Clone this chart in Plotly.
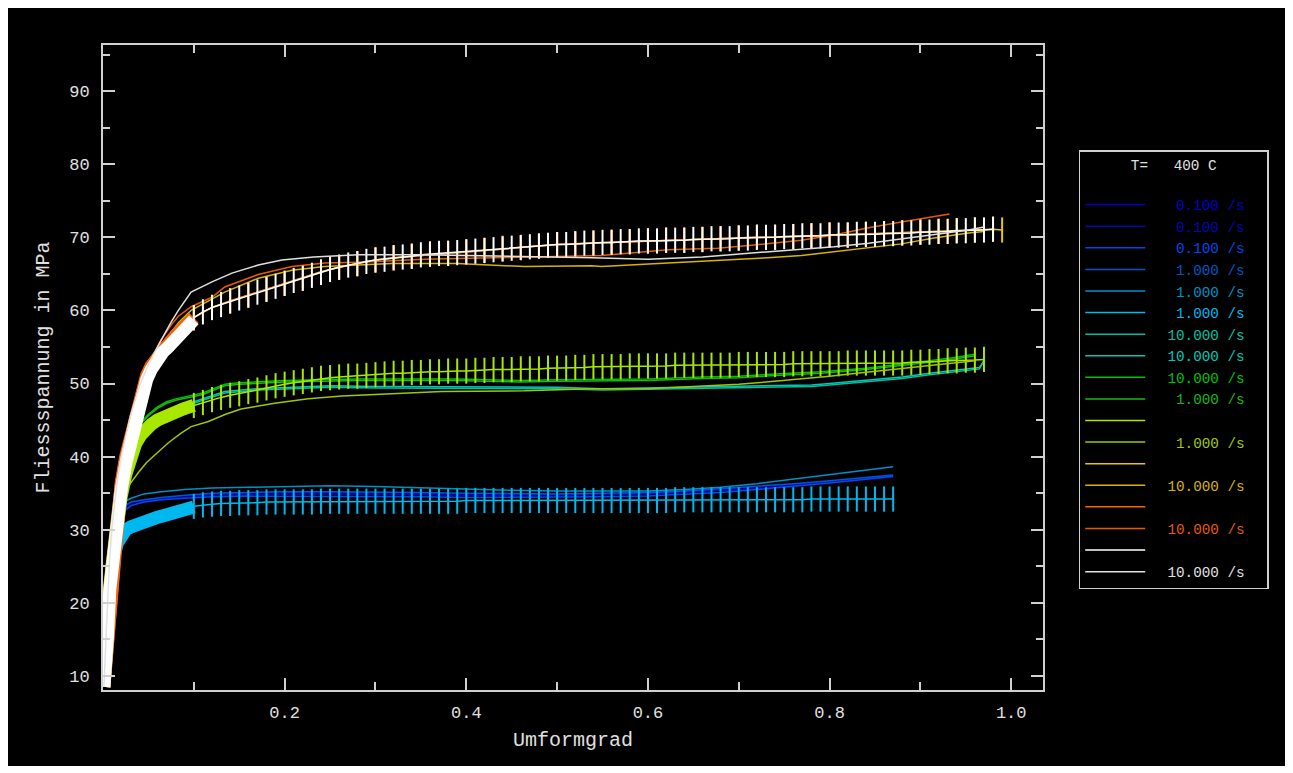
import plotly.graph_objects as go

FONT = "Liberation Mono, DejaVu Sans Mono, monospace"
TXT = "#e0e0e0"
AX = "#d0d0d0"

# ---------------- legend labels / colours (legend order) ----------------
labels = ["0.100 /s", "0.100 /s", "0.100 /s", "1.000 /s", "1.000 /s", "1.000 /s",
          "10.000 /s", "10.000 /s", "10.000 /s", "1.000 /s", "", "1.000 /s",
          "", "10.000 /s", "", "10.000 /s", "", "10.000 /s"]
colors = ["#0000c8", "#0008b0", "#0048f0", "#0058c8", "#0090c8", "#00b8f0",
          "#00c0a0", "#00c8b8", "#00c000", "#18b818", "#a8e800", "#a0c800",
          "#e8c800", "#d8b400", "#ff6000", "#e85a00", "#ffffff", "#e0e0e0"]

# ---------------- measured curves (crosses) ----------------
# dense early part (strain grid shared by all measured curves)
dense_strain = [0.001, 0.003, 0.005, 0.0075, 0.010, 0.013, 0.016, 0.020, 0.025, 0.031, 0.036,
                0.042, 0.048, 0.053, 0.060, 0.066, 0.072, 0.080, 0.088, 0.095, 0.100]
dense_cyan = [8.5, 11.5, 16.5, 21.5, 24.5, 26.8, 28.2, 29.2, 30.0, 30.4, 30.7,
              31.0, 31.2, 31.4, 31.7, 31.9, 32.1, 32.4, 32.6, 32.9, 33.1]
dense_ygreen = [8.5, 11.0, 15.5, 21.0, 25.0, 28.5, 31.5, 34.5, 37.5, 40.3, 41.8,
                43.0, 43.9, 44.4, 45.0, 45.4, 45.7, 46.1, 46.5, 46.8, 47.0]
dense_yellow = [8.5, 11.2, 15.9, 22.3, 26.1, 29.2, 32.2, 36.0, 39.6, 42.9, 46.1,
                49.1, 50.9, 52.2, 53.7, 54.6, 55.3, 56.5, 57.5, 58.4, 58.9]
dense_orange = [8.5, 11.4, 16.2, 22.7, 26.5, 29.6, 32.6, 36.4, 40.0, 43.3, 46.5,
                49.4, 51.1, 52.4, 53.8, 54.7, 55.4, 56.6, 57.6, 58.5, 59.0]
dense_white = [8.5, 11.0, 15.5, 21.8, 25.5, 28.6, 31.5, 35.4, 39.0, 42.3, 45.6,
               48.7, 50.5, 51.9, 53.4, 54.3, 55.0, 56.2, 57.3, 58.2, 58.7]

# sparse part, one cross every 0.01 of strain
cyan_cross = [33.2, 33.4, 33.5, 33.6, 33.6, 33.7, 33.7, 33.7, 33.8, 33.8,
              33.8, 33.8, 33.8, 33.8, 33.9, 33.9, 33.9, 33.9, 33.9, 33.9,
              33.9, 33.9, 33.9, 33.9, 33.9, 33.9, 33.9, 33.9, 33.9, 33.9,
              34.0, 34.0, 34.0, 34.0, 34.0, 34.0, 34.0, 34.0, 34.0, 34.0,
              34.0, 34.0, 34.0, 34.0, 34.0, 34.0, 34.0, 34.0, 34.0, 34.0,
              34.0, 34.0, 34.0, 34.1, 34.1, 34.1, 34.1, 34.1, 34.1, 34.1,
              34.1, 34.1, 34.1, 34.1, 34.1, 34.1, 34.1, 34.1, 34.2, 34.2,
              34.2, 34.2, 34.2, 34.2, 34.2, 34.2, 34.2, 34.2]
ygreen_cross = [47.0, 47.4, 47.8, 48.1, 48.4, 48.6, 48.9, 49.1, 49.4, 49.7,
                49.9, 50.1, 50.3, 50.5, 50.7, 50.8, 50.9, 51.0, 51.0, 51.1,
                51.2, 51.3, 51.4, 51.4, 51.5, 51.5, 51.6, 51.6, 51.7, 51.7,
                51.7, 51.8, 51.8, 51.9, 51.9, 51.9, 52.0, 52.0, 52.0, 52.1,
                52.1, 52.1, 52.2, 52.2, 52.3, 52.3, 52.3, 52.3, 52.4, 52.4,
                52.4, 52.4, 52.4, 52.5, 52.5, 52.5, 52.5, 52.5, 52.5, 52.5,
                52.6, 52.6, 52.6, 52.6, 52.6, 52.6, 52.7, 52.7, 52.7, 52.7,
                52.7, 52.7, 52.8, 52.8, 52.8, 52.8, 52.8, 52.8, 52.8, 52.9,
                52.9, 53.0, 53.0, 53.1, 53.1, 53.2, 53.2, 53.3]
white_cross = [59.0, 59.8, 60.4, 60.8, 61.3, 61.7, 62.1, 62.5, 62.9, 63.3,
               63.7, 64.1, 64.4, 64.8, 65.2, 65.6, 65.9, 66.2, 66.4, 66.7,
               66.9, 67.0, 67.2, 67.3, 67.4, 67.6, 67.7, 67.8, 67.8, 67.9,
               68.0, 68.1, 68.2, 68.3, 68.4, 68.5, 68.6, 68.7, 68.8, 68.9,
               69.0, 69.0, 69.1, 69.2, 69.2, 69.3, 69.3, 69.4, 69.4, 69.5,
               69.5, 69.5, 69.6, 69.6, 69.6, 69.7, 69.7, 69.8, 69.8, 69.8,
               69.9, 69.9, 70.0, 70.0, 70.0, 70.1, 70.1, 70.2, 70.2, 70.2,
               70.3, 70.3, 70.3, 70.4, 70.4, 70.4, 70.5, 70.5, 70.6, 70.6,
               70.7, 70.7, 70.8, 70.8, 70.9, 70.9, 71.0, 71.0, 71.1]
# crosses every 0.02 of strain (mostly hidden behind the white ones)
yellow_cross = [59.0, 60.4, 61.3, 62.1, 62.9, 63.7, 64.4, 65.3, 65.9, 66.4,
                66.9, 67.2, 67.4, 67.7, 67.8, 68.0, 68.2, 68.5, 68.6, 68.8,
                69.0, 69.1, 69.2, 69.3, 69.4, 69.5, 69.6, 69.6, 69.7, 69.8,
                69.9, 70.0, 70.0, 70.1, 70.2, 70.3, 70.3, 70.4, 70.5, 70.6,
                70.7, 70.8, 70.9, 71.0, 71.1, 71.0]
orange_cross = [59.0, 60.4, 61.3, 62.1, 62.9, 63.7, 64.4, 65.2, 65.9, 66.4,
                66.9, 67.2, 67.4, 67.7, 67.8, 68.0, 68.2, 68.4, 68.6, 68.8,
                69.0, 69.1, 69.2, 69.3, 69.4, 69.5, 69.6, 69.6, 69.7, 69.8,
                69.9, 70.0, 70.0, 70.1, 70.2, 70.3, 70.3, 70.4, 70.5, 70.6,
                70.7, 70.8, 70.8]

def grid(start, step, n):
    return [round(start + step * i, 3) for i in range(n)]

cyan_strain = grid(0.10, 0.01, len(cyan_cross))
ygreen_strain = grid(0.10, 0.01, len(ygreen_cross))
white_strain = grid(0.10, 0.01, len(white_cross))
yellow_strain = grid(0.10, 0.02, len(yellow_cross) - 1) + [0.99]
orange_strain = grid(0.10, 0.02, len(orange_cross) - 1) + [0.93]

# ---------------- fitted / calculated curves (lines) ----------------
low_strain = [0.001, 0.004, 0.007, 0.010, 0.015, 0.020, 0.031, 0.045, 0.064, 0.090, 0.12, 0.16, 0.20, 0.25,
              0.30, 0.35, 0.40, 0.45, 0.50, 0.55, 0.60, 0.64, 0.68, 0.72, 0.76, 0.80, 0.84, 0.87]
line1 = [8.5, 17.0, 24.5, 28.8, 31.6, 32.8, 33.7, 34.0, 34.3, 34.6, 34.9, 35.0, 35.1, 35.1,
         35.1, 35.0, 34.9, 34.8, 34.8, 34.9, 35.0, 35.2, 35.5, 35.8, 36.2, 36.6, 37.1, 37.4]
line2 = [8.5, 16.5, 24.0, 28.3, 31.2, 32.5, 33.4, 33.8, 34.1, 34.4, 34.7, 34.8, 34.9, 34.9,
         34.9, 34.8, 34.7, 34.7, 34.7, 34.8, 34.9, 35.1, 35.3, 35.6, 36.0, 36.4, 36.9, 37.2]
line3 = [8.5, 16.0, 23.5, 27.8, 30.8, 32.2, 33.3, 33.8, 34.1, 34.3, 34.5, 34.6, 34.6, 34.6,
         34.5, 34.5, 34.4, 34.4, 34.4, 34.5, 34.6, 34.8, 35.1, 35.5, 35.9, 36.4, 36.9, 37.3]
line4 = [8.5, 17.2, 24.7, 29.0, 31.8, 33.0, 33.8, 34.1, 34.4, 34.7, 35.0, 35.1, 35.2, 35.2,
         35.2, 35.1, 35.0, 34.9, 34.9, 35.0, 35.1, 35.3, 35.6, 35.9, 36.3, 36.7, 37.2, 37.5]
line5 = [8.5, 18.0, 25.5, 30.0, 32.5, 33.6, 34.3, 34.9, 35.2, 35.5, 35.7, 35.8, 35.9, 36.0,
         35.9, 35.7, 35.5, 35.4, 35.3, 35.3, 35.3, 35.5, 35.8, 36.3, 36.9, 37.5, 38.2, 38.6]

teal_strain = [0.001, 0.004, 0.007, 0.010, 0.015, 0.020, 0.030, 0.040, 0.050, 0.060, 0.080, 0.100,
               0.134, 0.17, 0.21, 0.25, 0.30, 0.35, 0.40, 0.45, 0.50, 0.55, 0.60, 0.65, 0.70, 0.75,
               0.78, 0.80, 0.82, 0.85, 0.88, 0.91, 0.94, 0.96, 0.965, 0.97]
line7 = [8.5, 17.0, 24.0, 29.5, 34.5, 37.5, 41.2, 43.4, 44.8, 45.6, 46.6, 47.3,
         48.7, 49.1, 49.3, 49.5, 49.4, 49.4, 49.4, 49.4, 49.3, 49.1, 49.2, 49.3, 49.4, 49.5,
         49.6, 49.8, 50.0, 50.3, 50.7, 51.2, 51.6, 51.9, 52.0, 53.2]
line8 = [8.5, 17.2, 24.2, 29.7, 34.7, 37.7, 41.4, 43.6, 45.0, 45.8, 46.8, 47.5,
         48.9, 49.3, 49.5, 49.7, 49.6, 49.6, 49.6, 49.6, 49.5, 49.3, 49.4, 49.5, 49.6, 49.7,
         49.8, 50.0, 50.2, 50.5, 50.9, 51.4, 51.8, 52.1, 52.2, 53.0]

green_strain = [0.001, 0.004, 0.007, 0.010, 0.015, 0.020, 0.030, 0.040, 0.050, 0.060, 0.070, 0.080,
                0.090, 0.100, 0.110, 0.134, 0.15, 0.20, 0.28, 0.39, 0.43, 0.46, 0.50, 0.55, 0.60,
                0.66, 0.70, 0.74, 0.79, 0.84, 0.87, 0.91, 0.94, 0.96]
line9 = [8.5, 18.0, 25.5, 31.0, 36.0, 39.0, 42.5, 44.5, 45.8, 46.8, 47.5, 47.9,
         48.2, 48.4, 48.7, 49.9, 50.1, 50.4, 50.6, 50.6, 50.5, 50.4, 50.5, 50.6, 50.6,
         50.9, 51.0, 51.3, 51.6, 52.1, 52.5, 53.1, 53.6, 54.0]
line10 = [8.5, 17.8, 25.3, 30.8, 35.8, 38.8, 42.3, 44.3, 45.6, 46.6, 47.3, 47.7,
          48.0, 48.2, 48.5, 49.7, 49.9, 50.2, 50.4, 50.4, 50.3, 50.2, 50.3, 50.4, 50.4,
          50.7, 50.8, 51.1, 51.4, 51.9, 52.3, 52.9, 53.4, 53.8]

olive_strain = [0.001, 0.004, 0.007, 0.010, 0.015, 0.020, 0.025, 0.030, 0.035, 0.040, 0.048, 0.055,
                0.066, 0.072, 0.086, 0.097, 0.116, 0.135, 0.152, 0.189, 0.226, 0.263, 0.318, 0.373,
                0.464, 0.538, 0.60, 0.65, 0.70, 0.73, 0.77, 0.80, 0.83, 0.87, 0.90, 0.93, 0.96]
line12 = [8.5, 16.5, 23.0, 27.5, 31.5, 33.8, 35.2, 36.3, 37.2, 38.0, 39.2, 40.0,
          41.3, 41.9, 43.2, 44.1, 44.8, 45.8, 46.5, 47.3, 47.9, 48.3, 48.6, 48.9,
          49.0, 49.3, 49.3, 49.6, 49.9, 50.2, 50.6, 51.0, 51.4, 51.9, 52.3, 52.7, 53.1]

yellow_strain_l = [0.001, 0.004, 0.007, 0.010, 0.015, 0.020, 0.028, 0.035, 0.046, 0.057, 0.064, 0.075,
                   0.083, 0.097, 0.134, 0.171, 0.208, 0.244, 0.318, 0.39, 0.428, 0.464, 0.538, 0.549,
                   0.622, 0.677, 0.732, 0.769, 0.805, 0.843, 0.879, 0.915, 0.953, 0.97]
line14 = [8.5, 17.5, 25.0, 30.0, 35.0, 38.5, 43.3, 46.7, 50.3, 53.2, 54.8, 57.0,
          58.3, 60.0, 62.5, 64.4, 65.5, 66.0, 66.4, 66.4, 66.2, 66.0, 66.1, 66.0,
          66.5, 66.8, 67.2, 67.5, 68.0, 68.5, 69.1, 69.9, 70.6, 70.8]

orange_strain_l = [0.001, 0.004, 0.007, 0.010, 0.015, 0.020, 0.028, 0.035, 0.046, 0.057, 0.064, 0.075,
                   0.083, 0.097, 0.12, 0.134, 0.171, 0.208, 0.244, 0.281, 0.354, 0.428, 0.50, 0.549,
                   0.622, 0.677, 0.714, 0.769, 0.805, 0.843, 0.879, 0.915, 0.932]
line16 = [8.5, 18.0, 25.5, 30.5, 35.5, 39.0, 44.0, 47.6, 51.4, 54.2, 56.0, 58.0,
          59.2, 60.5, 61.8, 63.2, 64.9, 66.0, 66.5, 66.6, 67.0, 67.2, 67.4, 67.5,
          68.3, 68.5, 68.9, 69.6, 70.3, 71.3, 72.1, 72.9, 73.2]

white_strain_l = [0.001, 0.004, 0.007, 0.010, 0.015, 0.020, 0.030, 0.040, 0.050, 0.060, 0.068, 0.075,
                  0.083, 0.097, 0.12, 0.142, 0.171, 0.197, 0.232, 0.281, 0.35, 0.409, 0.47, 0.538,
                  0.60, 0.66, 0.73, 0.77, 0.805, 0.843, 0.879, 0.915, 0.953, 0.97]
line18 = [8.5, 18.0, 25.5, 30.5, 36.0, 40.0, 45.5, 49.6, 52.6, 55.0, 56.9, 58.4,
          60.0, 62.5, 63.9, 65.1, 66.2, 66.9, 67.3, 67.6, 67.6, 67.5, 67.4, 67.2,
          67.0, 67.3, 68.0, 68.4, 68.7, 69.2, 69.8, 70.3, 71.0, 71.4]

# ---------------- series definitions (legend order) ----------------
series = [
    ("line", low_strain, line1),
    ("line", low_strain, line2),
    ("line", low_strain, line3),
    ("line", low_strain, line4),
    ("line", low_strain, line5),
    ("cross", (dense_cyan, cyan_strain, cyan_cross)),
    ("line", teal_strain, line7),
    ("line", teal_strain, line8),
    ("line", green_strain, line9),
    ("line", green_strain, line10),
    ("cross", (dense_ygreen, ygreen_strain, ygreen_cross)),
    ("line", olive_strain, line12),
    ("cross", (dense_yellow, yellow_strain, yellow_cross)),
    ("line", yellow_strain_l, line14),
    ("cross", (dense_orange, orange_strain, orange_cross)),
    ("line", orange_strain_l, line16),
    ("cross", (dense_white, white_strain, white_cross)),
    ("line", white_strain_l, line18),
]

NB = "\u00a0"


def legend_name(label, color):
    if not label:
        return NB
    if len(label) < 9:
        label = "\u2007" + label
    return f"{NB}{NB}<span style='color:{color}'>{label}</span>{NB}{NB}"


fig = go.Figure()
for (kind, *data), label, col in zip(series, labels, colors):
    name = legend_name(label, col)
    if kind == "line":
        xs, ys = data
        fig.add_trace(go.Scatter(x=xs, y=ys, mode="lines", name=name,
                                 line=dict(color=col, width=1.5)))
    else:
        dense_y, xs, ys = data[0]
        # dense early measurements merge into a thick band
        fig.add_trace(go.Scatter(x=dense_strain, y=dense_y, mode="lines", showlegend=False,
                                 hoverinfo="skip", line=dict(color=col, width=13)))
        fig.add_trace(go.Scatter(x=xs, y=ys, mode="lines", name=name,
                                 line=dict(color=col, width=1.5)))
        fig.add_trace(go.Scatter(x=xs, y=ys, mode="markers", showlegend=False,
                                 marker=dict(symbol="line-ns", size=18,
                                             line=dict(color=col, width=2))))

axis_common = dict(showline=True, linecolor=AX, linewidth=2, mirror="allticks",
                   ticks="inside", tickcolor=AX, tickwidth=1.5, ticklen=12,
                   showgrid=False, zeroline=False,
                   tickfont=dict(family=FONT, size=17, color=TXT))

fig.update_layout(
    width=1277, height=758,
    paper_bgcolor="black", plot_bgcolor="black",
    margin=dict(l=95, r=242, t=37, b=76),
    font=dict(family=FONT, color=TXT, size=15),
    xaxis=dict(range=[0, 1.035], tickvals=[0.2, 0.4, 0.6, 0.8, 1.0],
               ticktext=["0.2", "0.4", "0.6", "0.8", "1.0"], ticklabelstandoff=6,
               minor=dict(tickvals=[0.1, 0.3, 0.5, 0.7, 0.9], ticks="inside", ticklen=8,
                          tickcolor=AX, tickwidth=1.5),
               title=dict(text="Umformgrad", standoff=10,
                          font=dict(family=FONT, size=20, color=TXT)),
               **axis_common),
    yaxis=dict(range=[8.08, 96.3], tickvals=[10, 20, 30, 40, 50, 60, 70, 80, 90],
               ticklabelstandoff=8,
               minor=dict(tickvals=[15, 25, 35, 45, 55, 65, 75, 85, 95], ticks="inside",
                          ticklen=7, tickcolor=AX, tickwidth=1.5),
               title=dict(text="Fliessspannung in MPa", standoff=14,
                          font=dict(family=FONT, size=20, color=TXT)),
               **axis_common),
    legend=dict(x=1.038, y=0.837, xanchor="left", yanchor="top",
                bgcolor="black", bordercolor=AX, borderwidth=1.5,
                font=dict(family=FONT, size=14.3, color=TXT),
                itemwidth=60, tracegroupgap=0, traceorder="normal",
                title=dict(text="T=" + NB * 3 + "400" + NB + "C<br>" + NB, side="top center",
                           font=dict(family=FONT, size=14.3, color=TXT))),
    showlegend=True,
)

fig.write_html("out.html")
